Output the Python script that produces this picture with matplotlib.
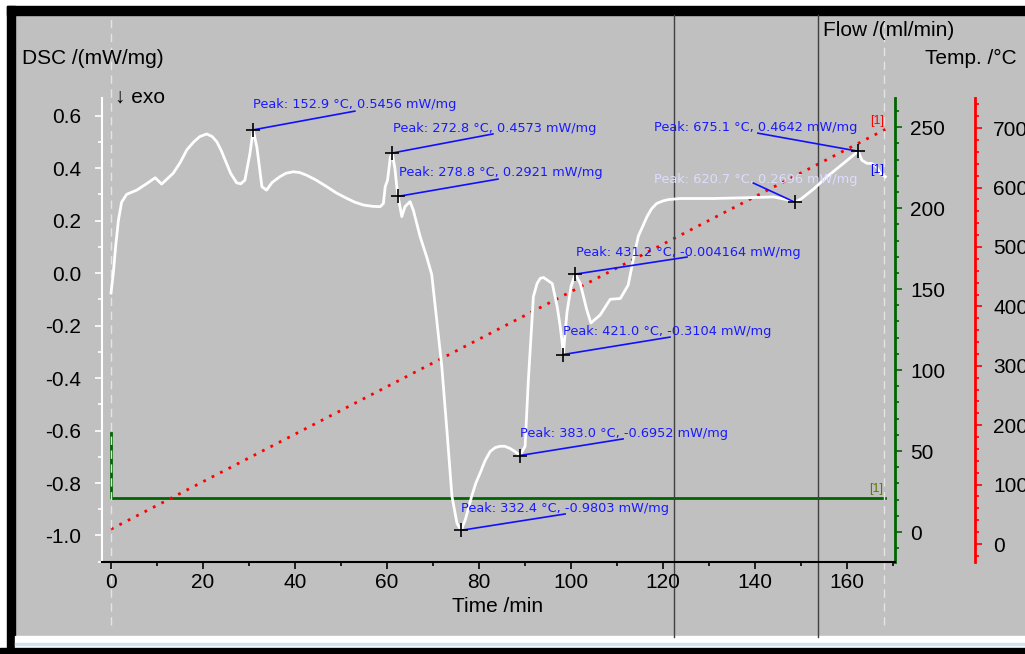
import matplotlib
matplotlib.use("Agg")
import matplotlib.pyplot as plt
from matplotlib.patches import Rectangle
from matplotlib.lines import Line2D
from matplotlib.ticker import MultipleLocator, FormatStrFormatter

W, H = 1025, 654

# DSC signal
time = [0, 0.5, 1.0, 1.6, 2.3, 3.4, 5.6, 7.7, 9.6, 11.0, 13.5, 15.0, 16.5,
        18.0, 19.3, 20.8, 22.0, 23.0, 24.0, 25.1, 26.0, 27.3, 28.2, 29.1,
        30.2, 30.9, 31.7, 32.8, 33.8, 35.0, 36.7, 38.0, 39.6, 41.0, 42.5,
        44.5, 46.9, 49.0, 51.2, 53.0, 54.9, 57.0, 58.5, 59.2, 59.6, 60.1,
        60.7, 61.1, 61.7, 62.1, 62.4, 63.2, 63.9, 65.0, 65.7, 67.2, 68.6,
        69.7, 70.8, 71.9, 73.0, 74.1, 75.2, 76.1, 77.0, 78.4, 79.3, 80.2,
        81.3, 82.4, 83.5, 84.6, 85.6, 86.7, 87.8, 88.9, 90.0, 90.7, 91.5,
        91.8, 92.6, 93.3, 94.0, 95.9, 97.0, 97.6, 98.0, 98.3, 99.1, 100.0,
        100.9, 102.0, 103.4, 104.3, 106.3, 108.5, 110.7, 112.4, 113.5, 114.6,
        116.5, 117.5, 118.6, 120.0, 121.2, 123.7, 130.9, 138.2, 144.0, 146.9,
        148.7, 150.1, 152.7, 155.6, 159.2, 162.4, 163.2, 164.3, 165.3, 166.4,
        167.2, 168.3]
dsc = [-0.076, 0.0, 0.10, 0.20, 0.27, 0.30, 0.316, 0.34, 0.363, 0.339, 0.38,
       0.42, 0.47, 0.50, 0.52, 0.53, 0.52, 0.50, 0.465, 0.418, 0.38, 0.344,
       0.34, 0.354, 0.456, 0.5456, 0.48, 0.329, 0.316, 0.345, 0.367, 0.38,
       0.386, 0.383, 0.373, 0.355, 0.329, 0.305, 0.285, 0.27, 0.259, 0.254,
       0.253, 0.265, 0.329, 0.354, 0.44, 0.4573, 0.40, 0.33, 0.2921, 0.215,
       0.253, 0.272, 0.24, 0.138, 0.062, -0.005, -0.18, -0.357, -0.598, -0.85,
       -0.954, -0.9803, -0.94, -0.85, -0.80, -0.763, -0.715, -0.68, -0.665,
       -0.66, -0.66, -0.668, -0.68, -0.6952, -0.66, -0.41, -0.18, -0.09,
       -0.04, -0.02, -0.017, -0.04, -0.13, -0.20, -0.256, -0.3104, -0.15,
       -0.05, -0.004, -0.04, -0.14, -0.19, -0.16, -0.10, -0.097, -0.046, 0.05,
       0.14, 0.215, 0.245, 0.265, 0.275, 0.28, 0.284, 0.284, 0.287, 0.29,
       0.28, 0.2696, 0.284, 0.32, 0.367, 0.418, 0.4642, 0.43, 0.418, 0.418,
       0.405, 0.38, 0.367]

# purge gas flow and furnace temperature
flow_time = [0, 0, 168.3]
flow = [61, 21, 21]
temp_time = [0, 168.3]
temp = [25, 698]

# evaluated peaks
peak_time = [30.9, 61.1, 62.4, 100.9, 98.3, 88.9, 76.1, 148.7, 162.4]
peak_dsc = [0.5456, 0.4573, 0.2921, -0.004164, -0.3104, -0.6952, -0.9803,
            0.2696, 0.4642]
peak_temp = ["152.9", "272.8", "278.8", "431.2", "421.0", "383.0", "332.4",
             "620.7", "675.1"]
peak_text = ["0.5456", "0.4573", "0.2921", "-0.004164", "-0.3104", "-0.6952",
             "-0.9803", "0.2696", "0.4642"]

# where each label and its leader line sit
label_t = [30.9, 61.3, 62.6, 101.1, 98.3, 88.9, 76.1, 118.0, 118.0]
label_v = [0.644, 0.549, 0.385, 0.080, -0.221, -0.610, -0.899, 0.358, 0.556]
leader_t = [53.0, 83.0, 84.1, 125.2, 121.5, 111.3, 98.7, 139.6, 140.6]
leader_v = [0.617, 0.530, 0.358, 0.061, -0.244, -0.632, -0.918, 0.343, 0.533]
label_color = ["#1a1aff"] * 7 + ["#dcdcff", "#1a1aff"]

plt.rcParams["font.family"] = ["Liberation Sans", "DejaVu Sans"]
plt.rcParams["axes.unicode_minus"] = False

gray = "#c0c0c0"
green = "#006400"
fig = plt.figure(figsize=(W / 100, H / 100), dpi=100, facecolor=gray)


def fx(x):
    return x / W


def fy(y):
    return 1 - y / H


def rect(x0, y0, x1, y1, color):
    fig.patches.append(Rectangle((fx(x0), fy(y1)), fx(x1 - x0), (y1 - y0) / H,
                                 transform=fig.transFigure, color=color,
                                 zorder=-10))


# window frame
rect(0, 0, W, 6, "white")
rect(0, 0, 7, H, "white")
rect(7, 6, W, 15, "black")
rect(7, 6, 15, H, "black")
rect(15, 636, W, 648, "white")
rect(15, 643, W, 645, "#cfe3f3")
rect(0, 648, W, H, "black")

ax = fig.add_axes([fx(102), fy(562), fx(895 - 102), (562 - 98) / H])
ax2 = ax.twinx()
ax3 = ax.twinx()
ax.set_zorder(3)
for a in (ax, ax2, ax3):
    a.patch.set_visible(False)
    for s in a.spines.values():
        s.set_visible(False)

# DSC axes
ax.set_xlim(-1.96, 170.4)
ax.set_ylim(-1.101, 0.667)
ax.spines["left"].set_visible(True)
ax.spines["left"].set_color("white")
ax.spines["left"].set_linewidth(1.5)
ax.spines["bottom"].set_visible(True)
ax.spines["bottom"].set_color("black")
ax.spines["bottom"].set_linewidth(1.5)
ax.xaxis.set_major_locator(MultipleLocator(20))
ax.xaxis.set_minor_locator(MultipleLocator(10))
ax.yaxis.set_major_locator(MultipleLocator(0.2))
ax.yaxis.set_minor_locator(MultipleLocator(0.1))
ax.yaxis.set_major_formatter(FormatStrFormatter("%.1f"))
ax.tick_params(axis="x", which="major", length=5, width=1.2, labelsize=15, pad=3)
ax.tick_params(axis="x", which="minor", length=3, width=1.2)
ax.tick_params(axis="y", which="major", length=5, width=1.2, color="white",
               labelsize=15, pad=10)
ax.tick_params(axis="y", which="minor", length=3, width=1.2, color="white")

# flow axis
ax2.set_ylim(-18.5, 268)
ax2.spines["right"].set_visible(True)
ax2.spines["right"].set_color(green)
ax2.spines["right"].set_linewidth(2)
ax2.yaxis.set_major_locator(MultipleLocator(50))
ax2.yaxis.set_minor_locator(MultipleLocator(10))
ax2.tick_params(axis="y", which="major", length=5, width=1.2, color=green,
                labelsize=15, pad=6)
ax2.tick_params(axis="y", which="minor", length=3, width=1.2, color=green)

# temperature axis
ax3.set_ylim(-30.3, 750.8)
ax3.spines["right"].set_visible(True)
ax3.spines["right"].set_position(("axes", (975 - 102) / (895 - 102)))
ax3.spines["right"].set_color("red")
ax3.spines["right"].set_linewidth(2)
ax3.yaxis.set_major_locator(MultipleLocator(100))
ax3.yaxis.set_minor_locator(MultipleLocator(20))
ax3.tick_params(axis="y", which="major", length=5, width=1.2, color="red",
                labelsize=15, pad=8)
ax3.tick_params(axis="y", which="minor", length=3, width=1.2, color="red")

# curves
ax2.plot(flow_time, flow, color=green, lw=2)
ax3.plot(temp_time, temp, color="red", lw=2, linestyle=(0, (1, 2.4)))
ax.plot(time, dsc, color="white", lw=2, solid_joinstyle="round")

# light dashed markers at start/end of the run
for t in (0, 168.0):
    ax.axvline(t, ymin=-0.136, ymax=1.172, color="#e4e4e4", lw=1,
               linestyle=(0, (6, 4)), clip_on=False, zorder=0)

# peak annotations
for i in range(len(peak_time)):
    ax.plot([peak_time[i], leader_t[i]], [peak_dsc[i], leader_v[i]],
            color="#1010ff", lw=1.2)
    ax.text(label_t[i], label_v[i],
            "Peak: %s \u00b0C, %s mW/mg" % (peak_temp[i], peak_text[i]),
            color=label_color[i], fontsize=9.3, va="center", ha="left",
            family=["DejaVu Sans"])
ax.plot(peak_time, peak_dsc, linestyle="none", marker="+", color="black",
        ms=10, mew=1.2, zorder=5)

# segment tags
fig.text(fx(870), fy(121), "[1]", color="red", fontsize=9, va="center")
fig.text(fx(870), fy(170), "[1]", color="blue", fontsize=9, va="center")
fig.text(fx(869), fy(489), "[1]", color="#5a7d00", fontsize=9, va="center")

# cursor lines from the software window
for x in (674, 818):
    fig.add_artist(Line2D([fx(x), fx(x)], [fy(15), fy(637)], color="#404040",
                          lw=1, transform=fig.transFigure))

# axis titles
fig.text(fx(22), fy(59), "DSC /(mW/mg)", fontsize=15, va="center")
fig.text(fx(823), fy(31), "Flow /(ml/min)", fontsize=15, va="center")
fig.text(fx(925), fy(58), "Temp. /\u00b0C", fontsize=15, va="center")
fig.text(fx(498), fy(606), "Time /min", fontsize=15, va="center", ha="center")
fig.text(fx(115), fy(97), "\u2193 exo", fontsize=15, va="center")

fig.savefig("out.png", dpi=100, facecolor=gray)
